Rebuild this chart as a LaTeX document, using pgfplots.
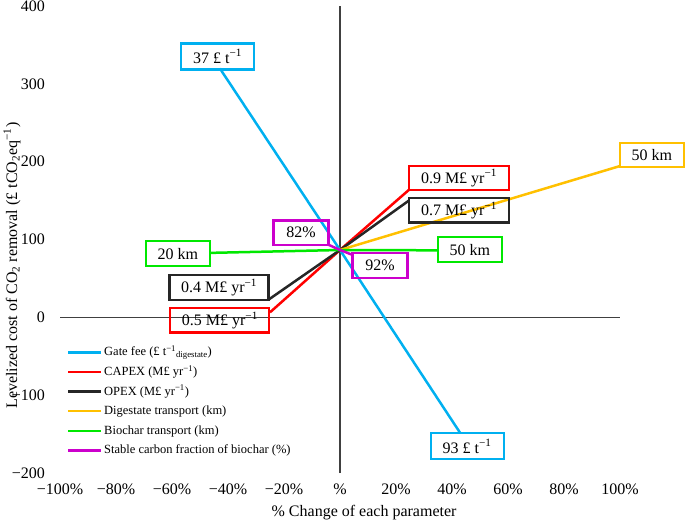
\documentclass[border=0pt]{standalone}
\usepackage{fontspec}
\setmainfont{Liberation Serif}
\usepackage{pgfplots}
\pgfplotsset{compat=1.18}
\definecolor{cyanL}{HTML}{00B0F0}
\definecolor{redL}{HTML}{FF0000}
\definecolor{blackL}{HTML}{262626}
\definecolor{orangeL}{HTML}{FFC000}
\definecolor{greenL}{HTML}{00E800}
\definecolor{magL}{HTML}{CC00CC}
\definecolor{axgray}{HTML}{404040}
\newcommand{\mf}{\fontsize{16bp}{19bp}\selectfont}
\newcommand{\lf}{\fontsize{12.5bp}{15bp}\selectfont}
\tikzset{lab/.style={draw=#1, line width=2.2bp, inner sep=0pt, minimum height=24.5bp, font=\mf}}
\begin{document}
\begin{tikzpicture}
\begin{axis}[
  width=560bp, height=467bp, scale only axis,
  xmin=-100, xmax=100, ymin=-200, ymax=400,
  axis line style={draw=none},
  major tick length=0pt,
  xtick={-100,-80,-60,-40,-20,0,20,40,60,80,100},
  xticklabels={−100\%,−80\%,−60\%,−40\%,−20\%,\%,20\%,40\%,60\%,80\%,100\%},
  ytick={-200,-100,0,100,200,300,400},
  yticklabels={−200,−100,0,100,200,300,400},
  xticklabel style={font=\mf, inner sep=0pt, anchor=north, yshift=-11bp},
  yticklabel style={font=\mf, inner sep=0pt, anchor=east, xshift=-15bp},
  clip=false,
  legend style={draw=none, fill=none, at={(axis cs:-97.5,-34.5)}, anchor=north west,
    font=\lf, inner sep=0pt, row sep=3.6bp,
    nodes={inner sep=1.5bp, text height=10bp, text depth=3bp}},
  legend cell align=left,
  legend image code/.code={\draw[#1, line width=2.5bp] (0bp,0bp) -- (33bp,0bp);},
]
\coordinate (pbl) at (rel axis cs:0,0);
\coordinate (ptr) at (rel axis cs:1,1);
\draw[axgray, line width=1.2bp] (axis cs:-100,0) -- (axis cs:100,0);
\draw[axgray, line width=1.2bp] (axis cs:0,-200) -- (axis cs:0,400);

\addplot[cyanL, line width=2.5bp] coordinates {(-42.9,319.8) (0,86.5) (42.9,-148.4)};
\addlegendentry{Gate fee (£ t\textsuperscript{−1}\textsubscript{digestate})}
\addplot[redL, line width=2.5bp] coordinates {(-25,6.4) (0,86.5) (24.6,163.7)};
\addlegendentry{CAPEX (M£ yr\textsuperscript{−1})}
\addplot[blackL, line width=2.5bp] coordinates {(-25.4,23) (0,86.5) (24.6,150)};
\addlegendentry{OPEX (M£ yr\textsuperscript{−1})}
\addplot[orangeL, line width=2.5bp] coordinates {(0,86.5) (100,194.4)};
\addlegendentry{Digestate transport (km)}
\addplot[greenL, line width=2.5bp] coordinates {(-46.4,82.8) (0,86.5) (34.6,86.1)};
\addlegendentry{Biochar transport (km)}
\addplot[magL, line width=2.5bp] coordinates {(-4.2,93.4) (0,86.5) (4.2,80.6)};
\addlegendentry{Stable carbon fraction of biochar (\%)}

\node[lab=cyanL, minimum width=73bp, minimum height=26bp] at (axis cs:-43.75,335.2) {37 £ t\textsuperscript{−1}};
\node[lab=redL, minimum width=100bp] at (axis cs:42.5,179.1) {0.9 M£ yr\textsuperscript{−1}};
\node[lab=blackL, minimum width=100bp] at (axis cs:42.5,137.5) {0.7 M£ yr\textsuperscript{−1}};
\node[lab=orangeL, minimum width=64bp] at (axis cs:111.4,208.5) {50 km};
\node[lab=greenL, minimum width=64bp] at (axis cs:46.4,87.0) {50 km};
\node[lab=magL, minimum width=55bp] at (axis cs:14.3,66.5) {92\%};
\node[lab=magL, minimum width=55bp] at (axis cs:-13.9,108.7) {82\%};
\node[lab=greenL, minimum width=64bp] at (axis cs:-57.9,81.9) {20 km};
\node[lab=blackL, minimum width=99bp] at (axis cs:-43.2,38.4) {0.4 M£ yr\textsuperscript{−1}};
\node[lab=redL, minimum width=99bp] at (axis cs:-42.9,-3.8) {0.5 M£ yr\textsuperscript{−1}};
\node[lab=cyanL, minimum width=73bp, minimum height=26bp] at (axis cs:45.4,-165.7) {93 £ t\textsuperscript{−1}};

\node[rotate=90, font=\mf, inner sep=0pt] at ([xshift=-48bp]axis cs:-100,66.5) {Levelized cost of CO\textsubscript{2} removal (£ tCO\textsubscript{2}eq\textsuperscript{−1})};
\node[font=\mf, inner sep=0pt] at ([yshift=-40bp]axis cs:8.6,-200) {\% Change of each parameter};
\end{axis}
\pgfresetboundingbox
\path[use as bounding box] ([xshift=-60bp,yshift=-50bp]pbl) rectangle ([xshift=65bp,yshift=6bp]ptr);
\end{tikzpicture}
\end{document}
